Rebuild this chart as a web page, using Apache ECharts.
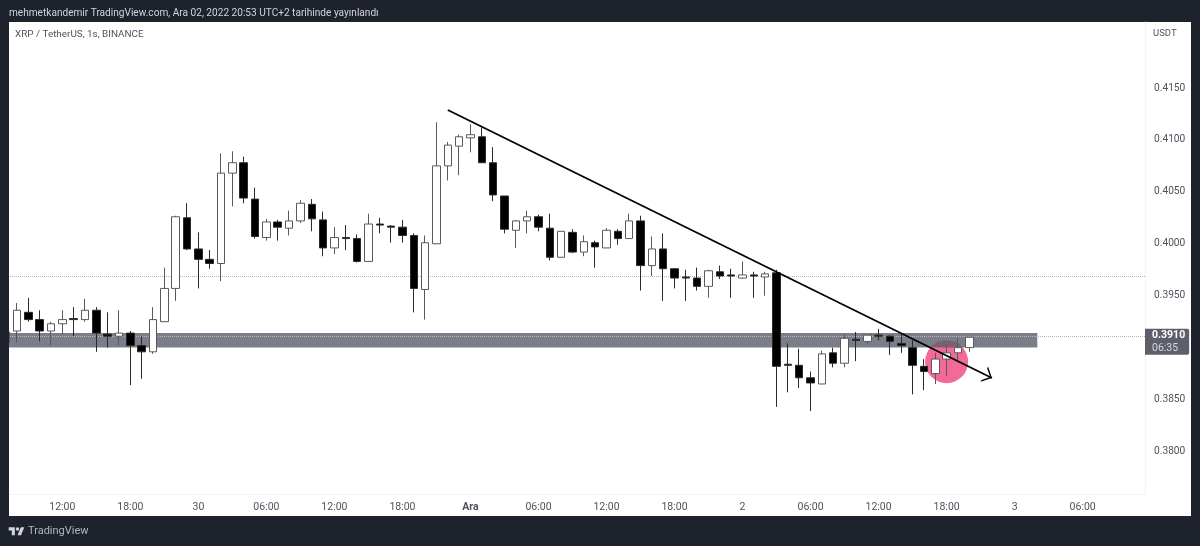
<!DOCTYPE html>
<html>
<head>
<meta charset="utf-8">
<title>XRP / TetherUS</title>
<script src="https://cdn.jsdelivr.net/npm/echarts@6/dist/echarts.min.js"></script>
<style>
    html, body { margin: 0; padding: 0; background: #1e222d; }
    #chart { width: 1200px; height: 546px; }
</style>
</head>
<body>
<div id="chart"></div>
<script>
    'use strict';

    // hourly candles, the first one sits behind the left frame
    var hours = [
        '07:00', '08:00', '09:00', '10:00', '11:00', '12:00', '13:00', '14:00', '15:00', '16:00', '17:00', '18:00', '19:00', '20:00', '21:00', '22:00', '23:00',
        '30', '01:00', '02:00', '03:00', '04:00', '05:00', '06:00', '07:00', '08:00', '09:00', '10:00', '11:00', '12:00', '13:00', '14:00', '15:00', '16:00', '17:00', '18:00', '19:00', '20:00', '21:00', '22:00', '23:00',
        'Ara', '01:00', '02:00', '03:00', '04:00', '05:00', '06:00', '07:00', '08:00', '09:00', '10:00', '11:00', '12:00', '13:00', '14:00', '15:00', '16:00', '17:00', '18:00', '19:00', '20:00', '21:00', '22:00', '23:00',
        '2', '01:00', '02:00', '03:00', '04:00', '05:00', '06:00', '07:00', '08:00', '09:00', '10:00', '11:00', '12:00', '13:00', '14:00', '15:00', '16:00', '17:00', '18:00', '19:00', '20:00', '21:00', '22:00', '23:00',
        '3', '01:00', '02:00', '03:00', '04:00', '05:00', '06:00', '07:00', '08:00', '09:00', '10:00', '11:00'
    ];

    var opens = [
        0.3905, 0.3916, 0.3934, 0.3927, 0.3916, 0.3923, 0.3928, 0.3927, 0.3936, 0.3913,
        0.3911, 0.3914, 0.3902, 0.3896, 0.3925, 0.3957, 0.4025, 0.3995, 0.3985, 0.3981,
        0.4068, 0.4078, 0.4043, 0.4006, 0.4021, 0.4015, 0.4022, 0.4038, 0.4023, 0.3996,
        0.4006, 0.4005, 0.3983, 0.4019, 0.4017, 0.4016, 0.4008, 0.3956, 0.4000, 0.4075,
        0.4094, 0.4102, 0.4103, 0.4078, 0.4046, 0.4013, 0.4022, 0.4026, 0.4015, 0.3987,
        0.4011, 0.3992, 0.4001, 0.3996, 0.4012, 0.4005, 0.4022, 0.3979, 0.3995, 0.3976,
        0.3968, 0.3967, 0.3959, 0.3973, 0.3970, 0.3967, 0.3970, 0.3968, 0.3972, 0.3884,
        0.3883, 0.3871, 0.3865, 0.3895, 0.3885, 0.3908, 0.3906, 0.3912, 0.3911, 0.3904,
        0.3900, 0.3882, 0.3875, 0.3889, 0.3895, 0.3900
    ];
    var closes = [
        0.3915, 0.3936, 0.3927, 0.3916, 0.3923, 0.3927, 0.3927, 0.3936, 0.3914, 0.3911,
        0.3914, 0.3902, 0.3896, 0.3927, 0.3957, 0.4026, 0.3995, 0.3985, 0.3981, 0.4068,
        0.4078, 0.4044, 0.4007, 0.4021, 0.4016, 0.4022, 0.4039, 0.4024, 0.3996, 0.4006,
        0.4005, 0.3983, 0.4019, 0.4018, 0.4016, 0.4008, 0.3957, 0.4001, 0.4075, 0.4095,
        0.4103, 0.4105, 0.4078, 0.4047, 0.4014, 0.4022, 0.4026, 0.4016, 0.3987, 0.4012,
        0.3992, 0.4002, 0.3997, 0.4013, 0.4005, 0.4022, 0.3979, 0.3995, 0.3976, 0.3967,
        0.3967, 0.3959, 0.3974, 0.3969, 0.3969, 0.3970, 0.3969, 0.3971, 0.3882, 0.3883,
        0.3871, 0.3866, 0.3894, 0.3885, 0.3909, 0.3907, 0.3912, 0.3911, 0.3906, 0.3902,
        0.3883, 0.3877, 0.3889, 0.3895, 0.3900, 0.3910
    ];
    var lows = [
        0.3900, 0.3905, 0.3925, 0.3906, 0.3902, 0.3913, 0.3911, 0.3925, 0.3896, 0.3900,
        0.3902, 0.3864, 0.3870, 0.3894, 0.3925, 0.3945, 0.3994, 0.3957, 0.3976, 0.3964,
        0.4036, 0.4039, 0.4005, 0.4003, 0.4003, 0.4008, 0.4020, 0.4012, 0.3988, 0.3990,
        0.3994, 0.3982, 0.3983, 0.4010, 0.4001, 0.4001, 0.3934, 0.3927, 0.4000, 0.4061,
        0.4066, 0.4088, 0.4078, 0.4041, 0.4010, 0.3996, 0.4010, 0.4012, 0.3984, 0.3987,
        0.3991, 0.3988, 0.3977, 0.3996, 0.3999, 0.4005, 0.3955, 0.3969, 0.3945, 0.3957,
        0.3945, 0.3955, 0.3948, 0.3966, 0.3948, 0.3966, 0.3948, 0.3950, 0.3843, 0.3857,
        0.3861, 0.3839, 0.3865, 0.3881, 0.3881, 0.3887, 0.3903, 0.3907, 0.3893, 0.3895,
        0.3855, 0.3859, 0.3865, 0.3873, 0.3888, 0.3896
    ];
    var highs = [
        0.3925, 0.3943, 0.3948, 0.3936, 0.3925, 0.3936, 0.3939, 0.3947, 0.3939, 0.3934,
        0.3936, 0.3916, 0.3911, 0.3939, 0.3977, 0.4027, 0.4039, 0.4011, 0.3994, 0.4087,
        0.4089, 0.4084, 0.4054, 0.4024, 0.4023, 0.4032, 0.4042, 0.4043, 0.4031, 0.4016,
        0.4018, 0.4009, 0.4029, 0.4025, 0.4018, 0.4023, 0.4010, 0.4008, 0.4117, 0.4098,
        0.4105, 0.4115, 0.4112, 0.4093, 0.4046, 0.4023, 0.4032, 0.4028, 0.4029, 0.4012,
        0.4014, 0.4008, 0.4003, 0.4015, 0.4014, 0.4029, 0.4027, 0.4007, 0.4010, 0.3976,
        0.3975, 0.3977, 0.3975, 0.3979, 0.3976, 0.3983, 0.3973, 0.3973, 0.3975, 0.3904,
        0.3899, 0.3877, 0.3897, 0.3900, 0.3913, 0.3915, 0.3912, 0.3918, 0.3912, 0.3913,
        0.3907, 0.3889, 0.3895, 0.3903, 0.3909, 0.3910
    ];

    var priceTicks = [0.38, 0.385, 0.395, 0.4, 0.405, 0.41, 0.415];
    var priceMin = 0.37591;
    var priceMax = 0.42135;

    // drawings on the chart, as [hour index, price]
    var trendStart = [39, 0.41288];
    var trendEnd = [87, 0.38708];
    var circleCentre = [83, 0.38865];
    var zoneTop = 0.39141;
    var zoneBottom = 0.39001;
    var zoneStart = 0;
    var zoneEnd = 91;
    var lastPrice = 0.39105;
    var prevPrice = 0.3969;

    var headerText = 'mehmetkandemir TradingView.com, Ara 02, 2022 20:53 UTC+2 tarihinde yayınlandı';
    var symbolText = 'XRP / TetherUS, 1s, BINANCE';
    var fontName = 'Roboto, "Noto Sans", sans-serif';
    var axisTextColor = '#50535e';
    // open arrow head, the empty first part keeps the tip at the symbol centre
    var chevron = 'path://M10,-20 L10,-20 Z M0,20 L10,0 L20,20 L17.6,20 L10,4.8 L2.4,20 Z';
    var logoColor = '#d1d4dc';

    var candleData = opens.map(function (open, i) {
        return [open, closes[i], lows[i], highs[i]];
    });

    var chart = echarts.init(document.getElementById('chart'), null, { renderer: 'canvas' });

    chart.setOption({
        animation: false,
        backgroundColor: '#1e222d',
        textStyle: { fontFamily: fontName },
        grid: { left: 0, width: 1145, top: 22, bottom: 52, containLabel: false },
        xAxis: {
            type: 'category',
            data: hours,
            boundaryGap: true,
            axisLine: { lineStyle: { color: '#f0f3fa' } },
            axisTick: { show: false },
            splitLine: { show: false },
            axisLabel: {
                color: axisTextColor,
                fontSize: 10.5,
                margin: 8,
                interval: function (index) {
                    return index % 6 === 5;
                },
                formatter: function (value) {
                    return value === 'Ara' ? '{bold|Ara}' : value;
                },
                rich: { bold: { fontWeight: 'bold', fontSize: 10.5, color: axisTextColor } }
            }
        },
        yAxis: {
            type: 'value',
            position: 'right',
            min: priceMin,
            max: priceMax,
            axisLine: { show: true, lineStyle: { color: '#f0f3fa' } },
            axisTick: { show: false },
            splitLine: { show: false },
            axisLabel: {
                color: axisTextColor,
                fontSize: 10.2,
                margin: 9,
                customValues: priceTicks,
                formatter: function (value) {
                    return value.toFixed(4);
                }
            }
        },
        graphic: [
            { type: 'rect', z: -10, shape: { x: 9, y: 22, width: 1182, height: 494 }, style: { fill: '#ffffff' } },
            { type: 'rect', z: 100, shape: { x: 0, y: 0, width: 9, height: 546 }, style: { fill: '#1e222d' } },
            { type: 'text', z: 100, x: 9, y: 8, style: { text: headerText, fill: '#d1d4dc', font: '10.1px ' + fontName } },
            { type: 'text', z: 100, x: 15, y: 30, style: { text: symbolText, fill: axisTextColor, font: '9.9px ' + fontName } },
            { type: 'text', z: 100, x: 1153, y: 29, style: { text: 'USDT', fill: axisTextColor, font: '9.5px ' + fontName } },
            // TradingView logo
            { type: 'polygon', z: 100, shape: { points: [[14.86, 535.3], [11.78, 535.3], [11.78, 530.4], [8.7, 530.4], [8.7, 527.3], [14.86, 527.3]] }, style: { fill: logoColor } },
            { type: 'polygon', z: 100, shape: { points: [[21, 535.3], [17.5, 535.3], [20.8, 527.3], [24.3, 527.3]] }, style: { fill: logoColor } },
            { type: 'circle', z: 100, shape: { cx: 17.5, cy: 529.1, r: 1.76 }, style: { fill: logoColor } },
            { type: 'text', z: 100, x: 28, y: 526, style: { text: 'TradingView', fill: '#b2b5be', font: '11px ' + fontName } }
        ],
        series: [
            {
                name: 'Circle',
                type: 'scatter',
                z: 1,
                silent: true,
                symbol: 'circle',
                symbolSize: 43,
                itemStyle: { color: '#f2699a', opacity: 1 },
                data: [circleCentre]
            },
            {
                name: 'Zone',
                type: 'line',
                z: 2,
                silent: true,
                data: [],
                markArea: {
                    silent: true,
                    z: 2,
                    itemStyle: { color: 'rgba(90, 94, 108, 0.8)' },
                    data: [[
                        { coord: [zoneStart, zoneTop] },
                        { coord: [zoneEnd, zoneBottom] }
                    ]]
                },
                markLine: {
                    silent: true,
                    z: 3,
                    symbol: 'none',
                    precision: 5,
                    lineStyle: { color: '#b4b6bd', type: 'dotted', width: 1 },
                    data: [
                        { yAxis: prevPrice, label: { show: false } },
                        {
                            yAxis: lastPrice,
                            label: {
                                show: true,
                                position: 'end',
                                distance: 0,
                                offset: [0, 5],
                                formatter: '{a|0.3910}\n{b|06:35}',
                                backgroundColor: '#5d606b',
                                borderRadius: [0, 2, 2, 0],
                                padding: [0, 4, 0, 7],
                                rich: {
                                    a: { color: '#ffffff', fontWeight: 'bold', fontSize: 10.5, lineHeight: 13, align: 'left' },
                                    b: { color: '#d6d8de', fontSize: 10.5, lineHeight: 13, align: 'left' }
                                }
                            }
                        }
                    ]
                }
            },
            {
                name: 'XRPUSDT',
                type: 'candlestick',
                z: 4,
                barWidth: 8,
                itemStyle: {
                    color: '#ffffff',
                    color0: '#000000',
                    borderColor: '#5a5a5a',
                    borderColor0: '#2a2a2a',
                    borderWidth: 1
                },
                data: candleData,
                markLine: {
                    silent: true,
                    z: 6,
                    symbol: ['none', chevron],
                    symbolSize: 17,
                    label: { show: false },
                    lineStyle: { color: '#000000', type: 'solid', width: 1.8 },
                    data: [[{ coord: trendStart }, { coord: trendEnd }]]
                }
            }
        ]
    });
</script>
</body>
</html>
